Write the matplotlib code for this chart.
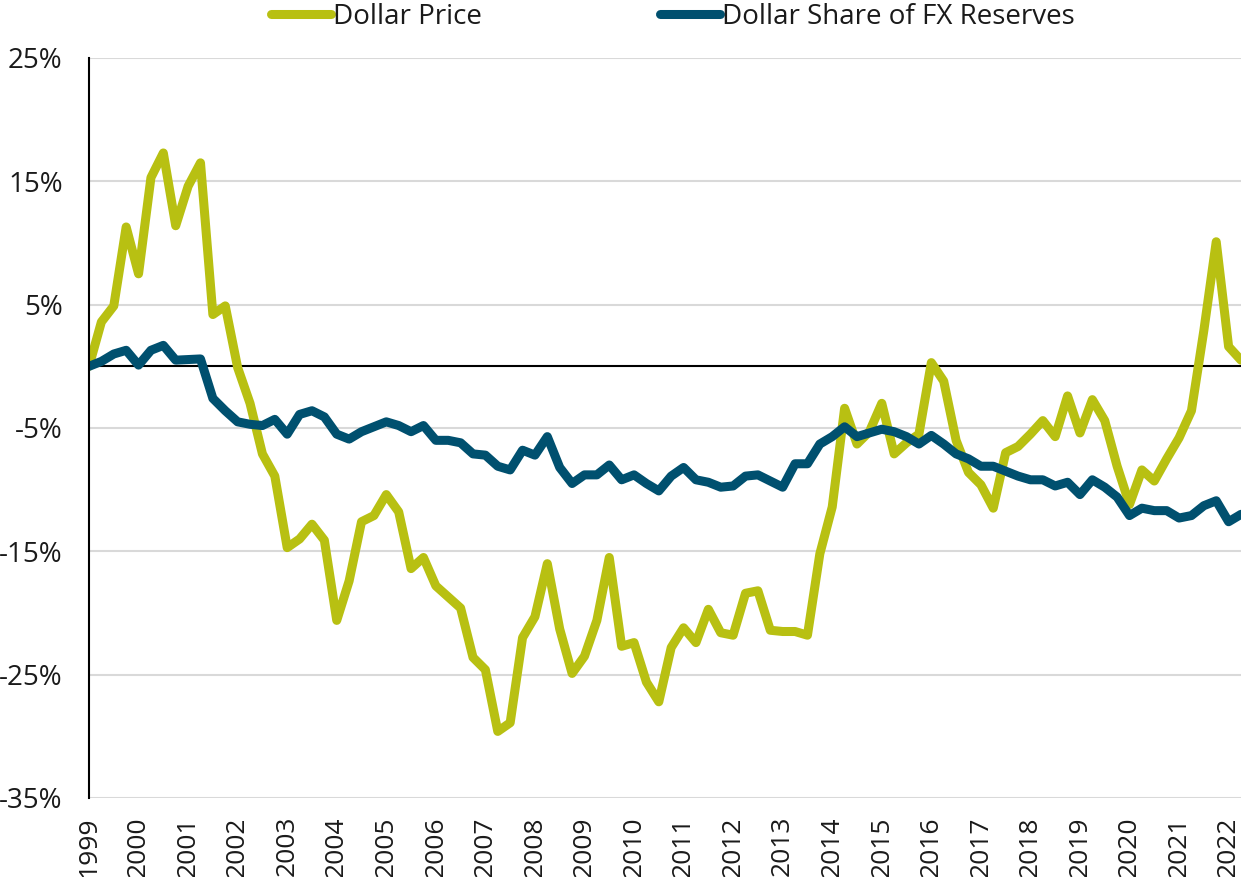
import matplotlib
matplotlib.use("Agg")
import matplotlib.pyplot as plt
from matplotlib.ticker import FixedLocator

plt.rcParams['font.family'] = ['Open Sans', 'DejaVu Sans']

years = list(range(1999, 2023))
year_labels = [str(y) for y in years]

dollar_price = [
    0.0, 3.6, 4.9, 11.3, 7.5, 15.3, 17.3, 11.4, 14.6, 16.5,
    4.2, 4.9, -0.1, -3.0, -7.1, -8.9, -14.7, -14.0, -12.8, -14.1,
    -20.6, -17.4, -12.6, -12.1, -10.4, -11.8, -16.4, -15.5, -17.8, -18.7,
    -19.6, -23.6, -24.6, -29.6, -28.9, -22.0, -20.3, -16.0, -21.3, -24.9,
    -23.5, -20.6, -15.5, -22.7, -22.4, -25.6, -27.2, -22.8, -21.2, -22.4,
    -19.7, -21.6, -21.8, -18.4, -18.2, -21.4, -21.5, -21.5, -21.8, -15.2,
    -11.4, -3.4, -6.3, -5.3, -3.0, -7.1, -6.2, -5.5, 0.3, -1.2,
    -6.0, -8.6, -9.6, -11.5, -7.0, -6.5, -5.5, -4.4, -5.7, -2.4,
    -5.4, -2.7, -4.4, -8.1, -11.2, -8.4, -9.3, -7.5, -5.8, -3.6,
    2.9, 10.1, 1.6, 0.5,
]

dollar_share = [
    0.0, 0.4, 1.0, 1.3, 0.1, 1.3, 1.7, 0.5, 0.55, 0.6,
    -2.6, -3.6, -4.5, -4.7, -4.8, -4.3, -5.5, -3.9, -3.6, -4.1,
    -5.5, -5.9, -5.3, -4.9, -4.5, -4.8, -5.3, -4.8, -6.0, -6.0,
    -6.2, -7.1, -7.2, -8.1, -8.4, -6.8, -7.2, -5.7, -8.2, -9.5,
    -8.8, -8.8, -8.0, -9.2, -8.8, -9.5, -10.1, -8.9, -8.2, -9.2,
    -9.4, -9.8, -9.7, -8.9, -8.8, -9.3, -9.8, -7.9, -7.9, -6.3,
    -5.7, -4.9, -5.7, -5.4, -5.1, -5.3, -5.7, -6.3, -5.6, -6.3,
    -7.1, -7.5, -8.1, -8.1, -8.5, -8.9, -9.2, -9.2, -9.7, -9.4,
    -10.4, -9.2, -9.8, -10.6, -12.1, -11.5, -11.7, -11.7, -12.3, -12.1,
    -11.3, -10.9, -12.6, -12.0,
]

y_ticks = [-35, -25, -15, -5, 5, 15, 25]

GREEN = '#B8C012'
BLUE = '#00506F'

fig = plt.figure(figsize=(12.41, 8.77), dpi=100)
ax = fig.add_axes([89/1241, 1 - 798/877, 1 - 89/1241, (798 - 58)/877])

x = list(range(len(dollar_price)))
ax.plot(x, dollar_price, color=GREEN, lw=6.5, solid_joinstyle='round',
        solid_capstyle='round', label='Dollar Price', zorder=3)
ax.plot(x, dollar_share, color=BLUE, lw=6.5, solid_joinstyle='round',
        solid_capstyle='round', label='Dollar Share of FX Reserves', zorder=4)

ax.set_ylim(-35, 25)
ax.set_xlim(0, len(x) - 1)
ax.yaxis.set_major_locator(FixedLocator(y_ticks))
ax.set_yticklabels([f'{v}%' for v in y_ticks])
ax.set_xticks([4 * i for i in range(len(years))])
ax.set_xticklabels(year_labels, rotation=90)

ax.grid(axis='y', color='#D9D9D9', lw=1.5, zorder=0)
ax.grid(axis='x', visible=False)
ax.axhline(0, color='black', lw=1.5, zorder=2)

for s in ['top', 'right', 'bottom']:
    ax.spines[s].set_visible(False)
ax.spines['left'].set_color('black')
ax.spines['left'].set_linewidth(1.5)
ax.spines['left'].set_zorder(5)

ax.tick_params(axis='y', length=0, pad=19, labelsize=20, colors='#1a1a1a')
ax.tick_params(axis='x', length=0, pad=13, labelsize=19, colors='#1a1a1a')

leg = fig.legend(loc='center', bbox_to_anchor=(673/1241, 1 - 17/877), ncol=2,
                 frameon=False, fontsize=20, handlelength=2.15,
                 handletextpad=0.1, columnspacing=6.4)
for t in leg.get_texts():
    t.set_color('#1a1a1a')

fig.savefig('out.png', dpi=100)
